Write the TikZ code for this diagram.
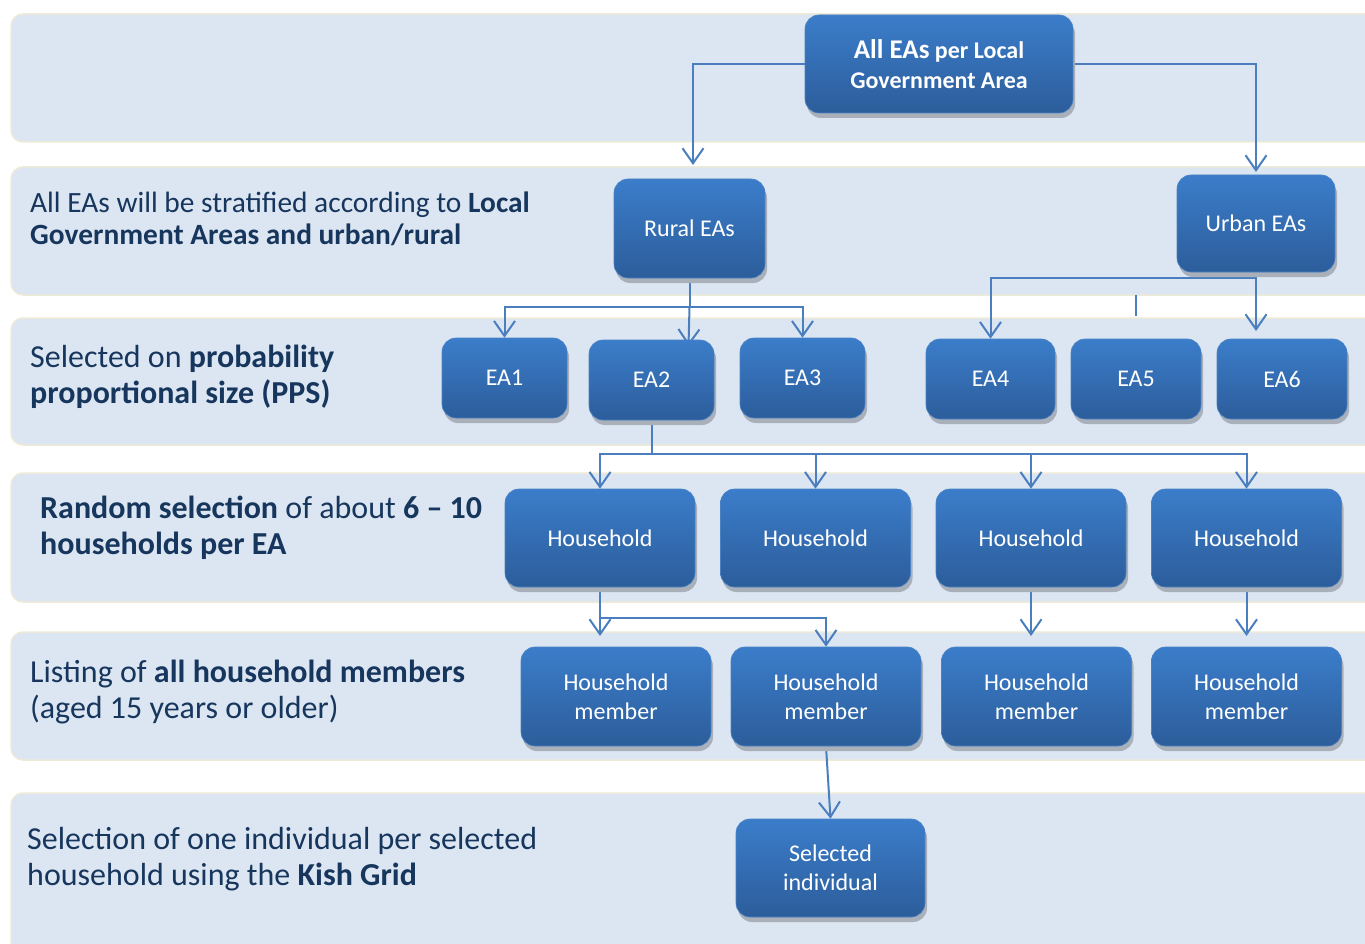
\documentclass[tikz,border=0pt]{standalone}
\usepackage{fontspec}
\setmainfont{Carlito}
\usetikzlibrary{arrows.meta,shadows,calc}
\definecolor{bandfill}{HTML}{DCE6F2}
\definecolor{bandedge}{HTML}{EEEAD8}
\definecolor{txt}{HTML}{17365D}
\definecolor{boxtop}{HTML}{3B7DCA}
\definecolor{boxbot}{HTML}{2C5D9B}
\definecolor{boxedge}{HTML}{4A82C4}
\definecolor{shadowc}{HTML}{A9B0BA}
\definecolor{linec}{HTML}{4A7EBE}
\pgfdeclarelayer{bg}
\pgfdeclarelayer{lines}
\pgfsetlayers{bg,lines,main}
\tikzset{
  band/.style={fill=bandfill, draw=bandedge, line width=1.5pt, rounded corners=12pt},
  lbl/.style={anchor=west, align=left, inner sep=0pt, text=txt, font=\fontsize{32}{35.5}\selectfont},
  box/.style={rectangle, rounded corners=14pt, top color=boxtop, bottom color=boxbot,
    draw=boxedge, line width=0.6pt, text=white, align=center, inner sep=0pt,
    font=\fontsize{24}{29}\selectfont,
    drop shadow={shadow xshift=2pt, shadow yshift=-5pt, fill=shadowc, opacity=1}},
  ln/.style={draw=linec, line width=2pt},
  arr/.style={ln, -{Straight Barb[length=15pt,width=21pt]}}
}
\begin{document}
\begin{tikzpicture}[x=1pt,y=-1pt]
\clip (0,0) rectangle (1365,944);
\begin{pgfonlayer}{bg}
\fill[white] (0,0) rectangle (1365,944);
\draw[band] (11,14) rectangle (1400,142);
\draw[band] (11,167) rectangle (1400,295);
\draw[band] (11,318) rectangle (1400,445);
\draw[band] (11,473) rectangle (1400,602);
\draw[band] (11,632) rectangle (1400,760);
\draw[band] (11,793) rectangle (1400,990);
\end{pgfonlayer}

% band labels
\node[lbl, font=\fontsize{29.4}{32}\selectfont] (t2) at (30,219) {All EAs will be stratified according to \textbf{Local}\\\textbf{Government Areas and urban/rural}};
\node[lbl] (t3) at (30,377) {Selected on \textbf{probability}\\\textbf{proportional size (PPS)}};
\node[lbl] (t4) at (40,528) {\textbf{Random selection} of about \textbf{6 -- 10}\\\textbf{households per EA}};
\node[lbl] (t5) at (30,692) {Listing of \textbf{all household members}\\(aged 15 years or older)};
\node[lbl] (t6) at (27,859) {Selection of one individual per selected\\household using the \textbf{Kish Grid}};

% boxes
\node[box, minimum width=268pt, minimum height=98pt, font=\bfseries\fontsize{24}{30}\selectfont] (top) at (939,64) {{\fontsize{27}{30}\selectfont All EAs} per Local\\Government Area};
\node[box, minimum width=151pt, minimum height=99pt] (rural) at (689.5,228.5) {Rural EAs};
\node[box, minimum width=158pt, minimum height=97pt] (urban) at (1256,223.5) {Urban EAs};
\node[box, minimum width=125pt, minimum height=80pt] (ea1) at (504.5,378) {EA1};
\node[box, minimum width=125pt, minimum height=80pt] (ea2) at (651.5,380) {EA2};
\node[box, minimum width=125pt, minimum height=80pt] (ea3) at (802.5,378) {EA3};
\node[box, minimum width=129pt, minimum height=80pt] (ea4) at (990.5,379) {EA4};
\node[box, minimum width=130pt, minimum height=80pt] (ea5) at (1136,379) {EA5};
\node[box, minimum width=130pt, minimum height=80pt] (ea6) at (1282,379) {EA6};
\node[box, minimum width=190pt, minimum height=98pt] (hh1) at (600,538) {Household};
\node[box, minimum width=190pt, minimum height=98pt] (hh2) at (815.5,538) {Household};
\node[box, minimum width=190pt, minimum height=98pt] (hh3) at (1031,538) {Household};
\node[box, minimum width=190pt, minimum height=98pt] (hh4) at (1246.5,538) {Household};
\node[box, minimum width=190pt, minimum height=99pt] (hm1) at (616,696.5) {Household\\member};
\node[box, minimum width=190pt, minimum height=99pt] (hm2) at (826,696.5) {Household\\member};
\node[box, minimum width=190pt, minimum height=99pt] (hm3) at (1036.5,696.5) {Household\\member};
\node[box, minimum width=190pt, minimum height=99pt] (hm4) at (1246.5,696.5) {Household\\member};
\node[box, minimum width=189pt, minimum height=98pt] (sel) at (830.5,868) {Selected\\individual};

% connectors
\begin{pgfonlayer}{lines}
\coordinate (a1) at (693,165);
\coordinate (a2) at (1256,172);
\draw[arr] (top.west) -| (a1);
\draw[arr] (top.east) -| (a2);
\coordinate (rj) at (689.5,307);
\coordinate (r2) at (688.5,346);
\draw[ln] (rural.south) -- (rj);
\draw[arr] (rj) -| (ea1.north);
\draw[arr] (rj) -| (ea3.north);
\draw[arr] (rj) -- (r2);
\coordinate (uj) at (1256,278);
\coordinate (u6) at (1256,331);
\draw[ln] (urban.south) -- (uj);
\draw[arr] (uj) -| (ea4.north);
\draw[arr] (uj) -- (u6);
\coordinate (k1) at (1136,295);
\coordinate (k2) at (1136,316);
\draw[ln] (k1) -- (k2);
\coordinate (ej) at (651.5,454);
\draw[ln] (ea2.south) -- (ej);
\draw[arr] (ej) -| (hh1.north);
\draw[arr] (ej) -| (hh2.north);
\draw[arr] (ej) -| (hh3.north);
\draw[arr] (ej) -| (hh4.north);
\coordinate (hj) at (600,618);
\coordinate (m1) at (600,636);
\coordinate (m3) at (1031,636);
\coordinate (m4) at (1246.5,636);
\draw[ln] (hh1.south) -- (hj);
\draw[arr] (hj) -- (m1);
\draw[arr] (hj) -| (hm2.north);
\draw[arr] (hh3.south) -- (m3);
\draw[arr] (hh4.south) -- (m4);
\draw[arr] (hm2.south) -- (sel.north);
\end{pgfonlayer}
\end{tikzpicture}
\end{document}
